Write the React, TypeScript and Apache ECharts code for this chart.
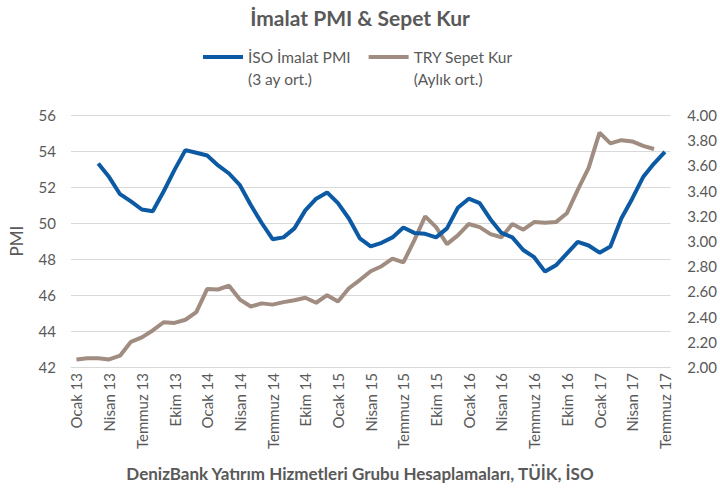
import React, { useEffect, useRef } from "react";
import * as echarts from "echarts";

const MONTHS = ["Ocak", "Şubat", "Mart", "Nisan", "Mayıs", "Haziran", "Temmuz", "Ağustos", "Eylül", "Ekim", "Kasım", "Aralık"];
const YEARS = ["13", "14", "15", "16", "17"];
const MONTH_COUNT = 55; // Ocak 13 ... Temmuz 17
const categories: string[] = [];
for (const y of YEARS) {
  for (const m of MONTHS) {
    if (categories.length < MONTH_COUNT) categories.push(`${m} ${y}`);
  }
}

const pmiName = "İSO İmalat PMI";
const pmiSub = "(3 ay ort.)";
const tryName = "TRY Sepet Kur";
const trySub = "(Aylık ort.)";

const pmiValues: (number | null)[] = [
  null, null, 53.3, 52.55, 51.6, 51.2, 50.75, 50.65, 51.75, 52.95, 54.05, 53.9,
  53.75, 53.2, 52.75, 52.1, 51.0, 50.0, 49.1, 49.2, 49.7, 50.7, 51.35, 51.7,
  51.1, 50.25, 49.15, 48.7, 48.9, 49.2, 49.75, 49.45, 49.4, 49.2, 49.7, 50.85,
  51.35, 51.1, 50.2, 49.45, 49.2, 48.5, 48.1, 47.3, 47.65, 48.3, 48.95, 48.75,
  48.35, 48.7, 50.25, 51.35, 52.55, 53.3, 53.95,
];

const tryValues: (number | null)[] = [
  2.06, 2.07, 2.07, 2.06, 2.09, 2.2, 2.235, 2.29, 2.355, 2.35, 2.375, 2.435,
  2.62, 2.615, 2.645, 2.535, 2.48, 2.505, 2.495, 2.515, 2.53, 2.55, 2.51, 2.57,
  2.52, 2.625, 2.69, 2.76, 2.8, 2.86, 2.83, 3.005, 3.195, 3.11, 2.975, 3.045,
  3.135, 3.11, 3.055, 3.03, 3.135, 3.09, 3.15, 3.145, 3.15, 3.22, 3.405, 3.58,
  3.86, 3.775, 3.8, 3.79, 3.755, 3.73, null,
];

const titleText = "İmalat PMI & Sepet Kur";
const sourceText = "DenizBank Yatırım Hizmetleri Grubu Hesaplamaları, TÜİK, İSO";
const leftAxisName = "PMI";

const FONT = "Lato, 'Open Sans', sans-serif";
const TEXT = "#595959";
const BLUE = "#0B5AA3";
const BROWN = "#A08C80";

export default function App() {
  const ref = useRef<HTMLDivElement>(null);
  useEffect(() => {
    if (!ref.current) return;
    const chart = echarts.init(ref.current, undefined, { renderer: "svg" });
    const subs: Record<string, string> = { [pmiName]: pmiSub, [tryName]: trySub };
    chart.setOption({
      animation: false,
      backgroundColor: "#ffffff",
      textStyle: { fontFamily: FONT },
      title: [
        {
          text: titleText,
          left: "center",
          top: 2,
          textStyle: { fontFamily: FONT, fontSize: 21, fontWeight: "bold", color: TEXT },
        },
        {
          text: sourceText,
          left: "center",
          top: 460,
          textStyle: { fontFamily: FONT, fontSize: 17, fontWeight: "bold", color: TEXT },
        },
      ],
      legend: {
        left: 203,
        top: 24,
        padding: 0,
        icon: "rect",
        itemWidth: 40,
        itemHeight: 4,
        itemGap: 18,
        data: [pmiName, tryName],
        formatter: (name: string) => ` \n${name}\n${subs[name]}`,
        textStyle: {
          fontFamily: FONT,
          fontSize: 15.5,
          color: TEXT,
          lineHeight: 22,
        },
      },
      grid: { left: 62, right: 47, top: 115, bottom: 127, containLabel: false },
      xAxis: {
        type: "category",
        data: categories,
        boundaryGap: true,
        axisLine: { show: true, lineStyle: { color: "#D9D9D9" } },
        axisTick: { show: false },
        axisLabel: {
          interval: 2,
          rotate: 90,
          color: TEXT,
          fontFamily: FONT,
          fontSize: 15,
          margin: 6,
        },
      },
      yAxis: [
        {
          type: "value",
          min: 42,
          max: 56,
          interval: 2,
          name: leftAxisName,
          nameLocation: "middle",
          nameGap: 46,
          nameRotate: 90,
          nameTextStyle: { color: TEXT, fontFamily: FONT, fontSize: 17 },
          axisLine: { show: false },
          axisTick: { show: false },
          axisLabel: { color: TEXT, fontFamily: FONT, fontSize: 15, margin: 15 },
          splitLine: { show: true, lineStyle: { color: "#D9D9D9", width: 1 } },
        },
        {
          type: "value",
          min: 2,
          max: 4,
          interval: 0.2,
          position: "right",
          axisLine: { show: false },
          axisTick: { show: false },
          axisLabel: {
            color: TEXT,
            fontFamily: FONT,
            fontSize: 15,
            margin: 17,
            formatter: (v: number) => v.toFixed(2),
          },
          splitLine: { show: false },
        },
      ],
      series: [
        {
          name: pmiName,
          type: "line",
          data: pmiValues,
          yAxisIndex: 0,
          showSymbol: false,
          symbol: "none",
          lineStyle: { color: BLUE, width: 4 },
          itemStyle: { color: BLUE },
          z: 3,
        },
        {
          name: tryName,
          type: "line",
          data: tryValues,
          yAxisIndex: 1,
          showSymbol: false,
          symbol: "none",
          lineStyle: { color: BROWN, width: 4 },
          itemStyle: { color: BROWN },
          z: 2,
        },
      ],
    });
    return () => chart.dispose();
  }, []);
  return (
    <div
      ref={ref}
      style={{ position: "absolute", left: 0, top: 0, width: 720, height: 494 }}
    />
  );
}
